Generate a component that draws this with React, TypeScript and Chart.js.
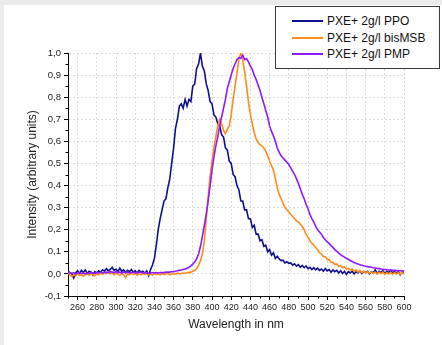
import React, { useEffect, useRef } from "react";
import { Chart, registerables } from "chart.js";

Chart.register(...registerables);

// Wavelength sampling (nm)
const wavelengths = [
  250, 252, 254, 256, 258, 260, 262, 264, 266, 268,
  270, 272, 274, 276, 278, 280, 282, 284, 286, 288,
  290, 292, 294, 296, 298, 300, 302, 304, 306, 308,
  310, 312, 314, 316, 318, 320, 322, 324, 326, 328,
  330, 332, 334, 336, 338, 340, 342, 344, 346, 348,
  350, 352, 354, 356, 358, 360, 362, 364, 366, 368,
  370, 372, 374, 376, 378, 380, 382, 384, 386, 388,
  390, 392, 394, 396, 398, 400, 402, 404, 406, 408,
  410, 412, 414, 416, 418, 420, 422, 424, 426, 428,
  430, 432, 434, 436, 438, 440, 442, 444, 446, 448,
  450, 452, 454, 456, 458, 460, 462, 464, 466, 468,
  470, 472, 474, 476, 478, 480, 482, 484, 486, 488,
  490, 492, 494, 496, 498, 500, 502, 504, 506, 508,
  510, 512, 514, 516, 518, 520, 522, 524, 526, 528,
  530, 532, 534, 536, 538, 540, 542, 544, 546, 548,
  550, 552, 554, 556, 558, 560, 562, 564, 566, 568,
  570, 572, 574, 576, 578, 580, 582, 584, 586, 588,
  590, 592, 594, 596, 598, 600,
];

const ppo = [
  0.012, 0.006, 0.0, -0.018, 0.004, 0.014, 0.002, 0.016, 0.006, 0.018,
  0.002, 0.012, 0.008, -0.006, 0.01, 0.004, 0.014, 0.008, 0.018, 0.012,
  0.024, 0.014, 0.02, 0.03, 0.016, 0.022, 0.01, 0.026, 0.012, 0.018,
  0.006, 0.016, 0.01, 0.02, 0.008, 0.014, 0.004, 0.016, 0.008, 0.012,
  0.002, 0.014, -0.008, 0.02, 0.04, 0.07, 0.13, 0.2, 0.25, 0.29,
  0.33, 0.34, 0.39, 0.43, 0.5, 0.57, 0.66, 0.7, 0.76, 0.77,
  0.75, 0.79, 0.76, 0.79, 0.78, 0.85, 0.86, 0.93, 0.95, 1.0,
  0.94, 0.92, 0.86, 0.83, 0.78, 0.77, 0.72, 0.71, 0.68, 0.67,
  0.63, 0.62, 0.57, 0.56, 0.51, 0.5, 0.45, 0.44, 0.4, 0.38,
  0.33, 0.33, 0.29, 0.29, 0.25, 0.25, 0.21, 0.22, 0.18, 0.18,
  0.15, 0.155, 0.125, 0.13, 0.1, 0.11, 0.085, 0.095, 0.07, 0.08,
  0.068, 0.06, 0.062, 0.05, 0.055, 0.048, 0.05, 0.04, 0.046, 0.035,
  0.042, 0.03, 0.038, 0.028, 0.036, 0.024, 0.03, 0.02, 0.028, 0.018,
  0.026, 0.016, 0.022, 0.012, 0.024, 0.014, 0.02, 0.008, 0.018, 0.01,
  0.016, 0.004, 0.014, 0.002, 0.012, -0.002, 0.01, 0.004, 0.012, 0.0,
  0.01, 0.004, 0.014, 0.002, 0.01, 0.006, 0.012, 0.0, 0.01, 0.004,
  0.018, 0.002, 0.012, 0.006, 0.014, 0.002, 0.012, 0.006, 0.016, 0.004,
  0.012, 0.002, 0.01, -0.004, 0.008, 0.006,
];

const bisMSB = [
  0.004, -0.006, -0.012, -0.004, -0.008, 0.002, -0.006, -0.002, -0.01, -0.004,
  0.0, -0.006, 0.002, -0.004, -0.008, 0.0, -0.004, 0.004, -0.002, 0.006,
  0.002, 0.008, 0.0, 0.006, -0.004, 0.004, 0.0, -0.006, 0.002, -0.004,
  -0.016, 0.0, -0.004, 0.004, -0.002, 0.002, -0.006, 0.0, -0.004, 0.002,
  -0.002, 0.004, -0.004, 0.0, -0.006, 0.002, -0.002, 0.0, -0.004, 0.002,
  -0.002, 0.0, 0.002, -0.004, 0.0, 0.002, -0.002, 0.004, 0.0, 0.002,
  0.004, 0.002, 0.006, 0.006, 0.008, 0.012, 0.016, 0.024, 0.04, 0.06,
  0.09, 0.15, 0.25, 0.35, 0.44, 0.51, 0.57, 0.62, 0.67, 0.7,
  0.68, 0.65, 0.635, 0.655, 0.67, 0.72, 0.79, 0.85, 0.91, 0.97,
  1.0, 0.97, 0.915, 0.85, 0.78, 0.72, 0.68, 0.64, 0.61, 0.595,
  0.585, 0.58, 0.57, 0.555, 0.535, 0.51, 0.49, 0.47, 0.43, 0.39,
  0.36, 0.34, 0.32, 0.3, 0.29, 0.28, 0.27, 0.26, 0.25, 0.24,
  0.235, 0.225, 0.215, 0.2, 0.18, 0.165, 0.15, 0.14, 0.13, 0.12,
  0.11, 0.095, 0.092, 0.078, 0.078, 0.064, 0.065, 0.052, 0.053, 0.042,
  0.045, 0.034, 0.038, 0.028, 0.032, 0.022, 0.026, 0.018, 0.022, 0.012,
  0.018, 0.008, 0.015, 0.006, 0.012, 0.004, 0.01, 0.002, 0.009, 0.003,
  0.008, 0.0, 0.007, 0.001, 0.008, -0.002, 0.006, 0.0, 0.007, -0.001,
  0.006, 0.0, 0.005, -0.002, 0.006, 0.001,
];

const pmp = [
  0.008, 0.004, 0.002, 0.006, 0.0, 0.004, 0.006, 0.002, 0.004, 0.0,
  0.004, 0.002, 0.006, 0.004, 0.002, 0.006, 0.004, 0.008, 0.004, 0.006,
  0.008, 0.006, 0.01, 0.008, 0.006, 0.01, 0.006, 0.008, 0.004, 0.008,
  0.006, 0.008, 0.004, 0.006, 0.008, 0.004, 0.006, 0.008, 0.006, 0.004,
  0.006, 0.004, 0.002, 0.004, 0.006, 0.004, 0.006, 0.004, 0.006, 0.006,
  0.006, 0.008, 0.008, 0.008, 0.01, 0.01, 0.012, 0.014, 0.016, 0.018,
  0.02, 0.022, 0.026, 0.03, 0.036, 0.044, 0.055, 0.068, 0.09, 0.125,
  0.17, 0.22, 0.27, 0.33, 0.4, 0.47, 0.53, 0.58, 0.62, 0.67,
  0.71, 0.75, 0.79, 0.84, 0.87, 0.9, 0.93, 0.95, 0.97, 0.98,
  0.975, 0.99, 0.97, 0.975, 0.96, 0.94, 0.925, 0.9, 0.88, 0.855,
  0.83, 0.8, 0.77, 0.74, 0.71, 0.67, 0.645, 0.625, 0.6, 0.57,
  0.55, 0.535, 0.525, 0.515, 0.505, 0.495, 0.48, 0.465, 0.45, 0.43,
  0.41, 0.385, 0.36, 0.34, 0.315, 0.295, 0.27, 0.25, 0.235, 0.215,
  0.2, 0.19, 0.18, 0.165, 0.155, 0.145, 0.138, 0.128, 0.12, 0.11,
  0.102, 0.094, 0.087, 0.081, 0.076, 0.07, 0.066, 0.061, 0.056, 0.052,
  0.048, 0.045, 0.041, 0.039, 0.037, 0.035, 0.033, 0.032, 0.03, 0.028,
  0.027, 0.025, 0.024, 0.022, 0.021, 0.02, 0.019, 0.018, 0.017, 0.016,
  0.016, 0.015, 0.015, 0.014, 0.014, 0.013,
];

const seriesLabels = ["PXE+ 2g/l PPO", "PXE+ 2g/l bisMSB", "PXE+ 2g/l PMP"];
const seriesColors = ["#10108f", "#ff8c1a", "#8f1aff"];

const xMinorTicks = [250, 270, 290, 310, 330, 350, 370, 390, 410, 430, 450, 470, 490, 510, 530, 550, 570, 590];
const yMinorTicks = [-0.05, 0.05, 0.15, 0.25, 0.35, 0.45, 0.55, 0.65, 0.75, 0.85, 0.95];

const FONT = "'Liberation Sans', Arial, sans-serif";

const minorTickPlugin = {
  id: "minorTicks",
  afterDraw(chart: any) {
    const { ctx, scales } = chart;
    const x = scales.x;
    const y = scales.y;
    ctx.save();
    ctx.strokeStyle = "#000";
    ctx.lineWidth = 1;
    ctx.beginPath();
    for (const v of xMinorTicks) {
      const px = Math.round(x.getPixelForValue(v)) + 0.5;
      ctx.moveTo(px, x.top);
      ctx.lineTo(px, x.top + 2.5);
    }
    for (const v of yMinorTicks) {
      const py = Math.round(y.getPixelForValue(v)) + 0.5;
      ctx.moveTo(y.right, py);
      ctx.lineTo(y.right - 2.5, py);
    }
    ctx.stroke();
    ctx.restore();
  },
};

export default function App() {
  const canvasRef = useRef<HTMLCanvasElement | null>(null);

  useEffect(() => {
    const canvas = canvasRef.current;
    if (!canvas) return;
    const seriesValues = [ppo, bisMSB, pmp];
    const datasets = seriesValues.map((vals, i) => ({
      label: seriesLabels[i],
      data: wavelengths.map((w, j) => ({ x: w, y: vals[j] })),
      borderColor: seriesColors[i],
      backgroundColor: seriesColors[i],
      borderWidth: 1.6,
      pointRadius: 0,
      tension: 0,
      order: 2 - i,
    }));
    const chart = new Chart(canvas, {
      type: "line",
      data: { datasets },
      plugins: [minorTickPlugin],
      options: {
        animation: false,
        responsive: false,
        devicePixelRatio: 1,
        layout: { padding: { left: 0, top: 53, right: 38, bottom: 0 } },
        plugins: {
          legend: { display: false },
          tooltip: { enabled: false },
        },
        scales: {
          x: {
            type: "linear",
            min: 250,
            max: 600,
            afterFit: (s: any) => {
              s.height = 49;
            },
            ticks: {
              stepSize: 20,
              includeBounds: false,
              maxRotation: 0,
              autoSkip: false,
              padding: 2,
              color: "#222",
              font: { family: FONT, size: 9 },
            },
            grid: {
              color: "#dcdcdc",
              tickColor: "#000",
              tickLength: 4,
              lineWidth: 1,
            },
            border: { display: true, color: "#000", width: 1, dash: [2, 2] },
            title: {
              display: true,
              text: "Wavelength in nm",
              color: "#222",
              font: { family: FONT, size: 12 },
              padding: { top: 0, bottom: 13 },
            },
          },
          y: {
            type: "linear",
            min: -0.1,
            max: 1.0,
            afterFit: (s: any) => {
              s.width = 68;
            },
            ticks: {
              stepSize: 0.1,
              padding: 3,
              color: "#222",
              font: { family: FONT, size: 9.5 },
              callback: (v: any) => (Math.round(Number(v) * 10) / 10).toFixed(1).replace(".", ","),
            },
            grid: {
              color: "#dcdcdc",
              tickColor: "#000",
              tickLength: 4,
              lineWidth: 1,
            },
            border: { display: true, color: "#000", width: 1, dash: [2, 2] },
            title: {
              display: true,
              text: "Intensity (arbitrary units)",
              color: "#222",
              font: { family: FONT, size: 12 },
              padding: { top: 25, bottom: 0 },
            },
          },
        },
      },
    });
    return () => chart.destroy();
  }, []);

  const legendRows = [21, 38, 54];

  return (
    <div style={{ position: "fixed", left: 0, top: 0, width: 442, height: 345, background: "#ebebeb", overflow: "hidden" }}>
      <div style={{ position: "absolute", left: 4, top: 5, width: 438, height: 340, background: "#fff" }} />
      <canvas ref={canvasRef} width={442} height={345} style={{ position: "absolute", left: 0, top: 0, width: 442, height: 345 }} />
      <div
        style={{
          position: "absolute",
          left: 275,
          top: 6,
          width: 165,
          height: 63,
          boxSizing: "border-box",
          border: "1px solid #3a3a3a",
          background: "#fff",
        }}
      >
        {seriesLabels.map((lab, i) => (
          <React.Fragment key={lab}>
            <div
              style={{
                position: "absolute",
                left: 16,
                top: legendRows[i] - 7 - 1,
                width: 31,
                height: 2,
                background: seriesColors[i],
              }}
            />
            <div
              style={{
                position: "absolute",
                left: 51,
                top: legendRows[i] - 7 - 8,
                height: 16,
                lineHeight: "16px",
                fontFamily: FONT,
                fontSize: 12,
                color: "#111",
                whiteSpace: "nowrap",
              }}
            >
              {lab}
            </div>
          </React.Fragment>
        ))}
      </div>
    </div>
  );
}
